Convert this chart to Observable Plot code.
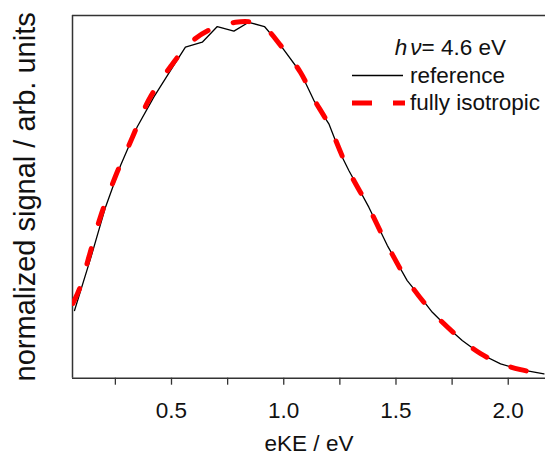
<!DOCTYPE html>
<html>
<head>
<meta charset="utf-8">
<script src="https://cdn.jsdelivr.net/npm/d3@7"></script>
<script src="https://cdn.jsdelivr.net/npm/@observablehq/plot@0.6"></script>
<style>
  html, body { margin: 0; padding: 0; background: #fff; }
  #chart { width: 545px; height: 461px; overflow: hidden; }
</style>
</head>
<body>
<div id="chart"></div>
<script>
// reference spectrum (black)
const eKE_ref = [0.068, 0.141, 0.206, 0.273, 0.347, 0.421, 0.496, 0.562, 0.637, 0.704, 0.778, 0.844, 0.914, 0.986, 1.075, 1.134, 1.201, 1.253, 1.290, 1.379, 1.461, 1.550, 1.610, 1.662, 1.729, 1.795, 1.877, 1.966, 2.055, 2.159];
const sig_ref = [0.190, 0.339, 0.480, 0.597, 0.705, 0.789, 0.864, 0.929, 0.943, 0.987, 0.974, 0.999, 0.987, 0.934, 0.858, 0.780, 0.714, 0.630, 0.583, 0.480, 0.373, 0.274, 0.227, 0.185, 0.143, 0.106, 0.068, 0.040, 0.024, 0.012];
// fully isotropic model (red dashed)
const eKE_iso = [0.061, 0.094, 0.135, 0.184, 0.250, 0.326, 0.398, 0.496, 0.585, 0.674, 0.785, 0.852, 0.919, 0.986, 1.075, 1.133, 1.200, 1.289, 1.378, 1.462, 1.552, 1.663, 1.797, 1.877, 1.966, 2.055, 2.167];
const sig_iso = [0.210, 0.257, 0.347, 0.454, 0.566, 0.676, 0.780, 0.875, 0.942, 0.979, 0.999, 1.000, 0.982, 0.934, 0.858, 0.785, 0.712, 0.583, 0.480, 0.373, 0.274, 0.185, 0.106, 0.069, 0.041, 0.024, 0.010];

const majorTicks = [0.5, 1.0, 1.5, 2.0];
const minorTicks = [0.25, 0.75, 1.25, 1.75];
const xDomain = [0.059, 2.166];
const yDomain = [0, 1.018];

const seriesLabels = ["reference", "fully isotropic"];
const titleText = "= 4.6 eV";
const xLabel = "eKE / eV";
const yLabel = "normalized signal / arb. units";

const refData = eKE_ref.map((x, i) => ({x, y: sig_ref[i]}));
const isoData = eKE_iso.map((x, i) => ({x, y: sig_iso[i]}));

const axisColor = "#333";

const chart = Plot.plot({
  width: 545,
  height: 461,
  marginLeft: 72,
  marginRight: 0,
  marginTop: 15,
  marginBottom: 83.3,
  style: { fontFamily: "'Liberation Sans', Arial, sans-serif", background: "white", color: "#111" },
  x: { domain: xDomain },
  y: { domain: yDomain, axis: null },
  marks: [
    Plot.ruleY([yDomain[0]], { stroke: axisColor, strokeWidth: 1.5 }),
    Plot.ruleY([yDomain[1]], { stroke: axisColor, strokeWidth: 1.5 }),
    Plot.ruleX([xDomain[0]], { stroke: axisColor, strokeWidth: 1.5 }),
    Plot.axisX({ ticks: majorTicks, tickSize: 7, tickPadding: 17, fontSize: 22.5, tickFormat: d => d.toFixed(1), label: null, stroke: axisColor, strokeWidth: 1.3 }),
    Plot.axisX({ ticks: minorTicks, tickSize: 7, tickFormat: () => "", label: null, stroke: axisColor, strokeWidth: 1.3 }),
    Plot.text([xLabel], { frameAnchor: "bottom", dy: 73, fontSize: 22.5, fill: "#111" }),
    Plot.text([yLabel], { frameAnchor: "left", textAnchor: "middle", dx: -47, rotate: -90, fontSize: 29, fill: "#111" }),
    Plot.line(refData, { x: "x", y: "y", stroke: "#000", strokeWidth: 1.3, clip: true }),
    Plot.line(isoData, { x: "x", y: "y", stroke: "#ff0000", strokeWidth: 5, strokeDasharray: "16,26", strokeLinecap: "round", curve: "catmull-rom", clip: true })
  ]
});

document.getElementById("chart").appendChild(chart);

// legend
const svg = d3.select(chart);
const lg = svg.append("g").attr("font-family", "'Liberation Sans', Arial, sans-serif").attr("font-size", 22.5).attr("fill", "#111").attr("text-anchor", "start");
const t = lg.append("text").attr("x", 506).attr("y", 55).attr("text-anchor", "end");
t.append("tspan").attr("font-style", "italic").text("h");
t.append("tspan").attr("font-style", "italic").attr("dx", 3).text("ν");
t.append("tspan").text(titleText);
lg.append("line").attr("x1", 352).attr("x2", 403).attr("y1", 75.5).attr("y2", 75.5).attr("stroke", "#000").attr("stroke-width", 1.3);
lg.append("text").attr("x", 410).attr("y", 83).text(seriesLabels[0]);
lg.append("line").attr("x1", 352).attr("x2", 405).attr("y1", 103).attr("y2", 103).attr("stroke", "#ff0000").attr("stroke-width", 5).attr("stroke-dasharray", "20,21");
lg.append("text").attr("x", 410).attr("y", 110).text(seriesLabels[1]);
</script>
</body>
</html>
